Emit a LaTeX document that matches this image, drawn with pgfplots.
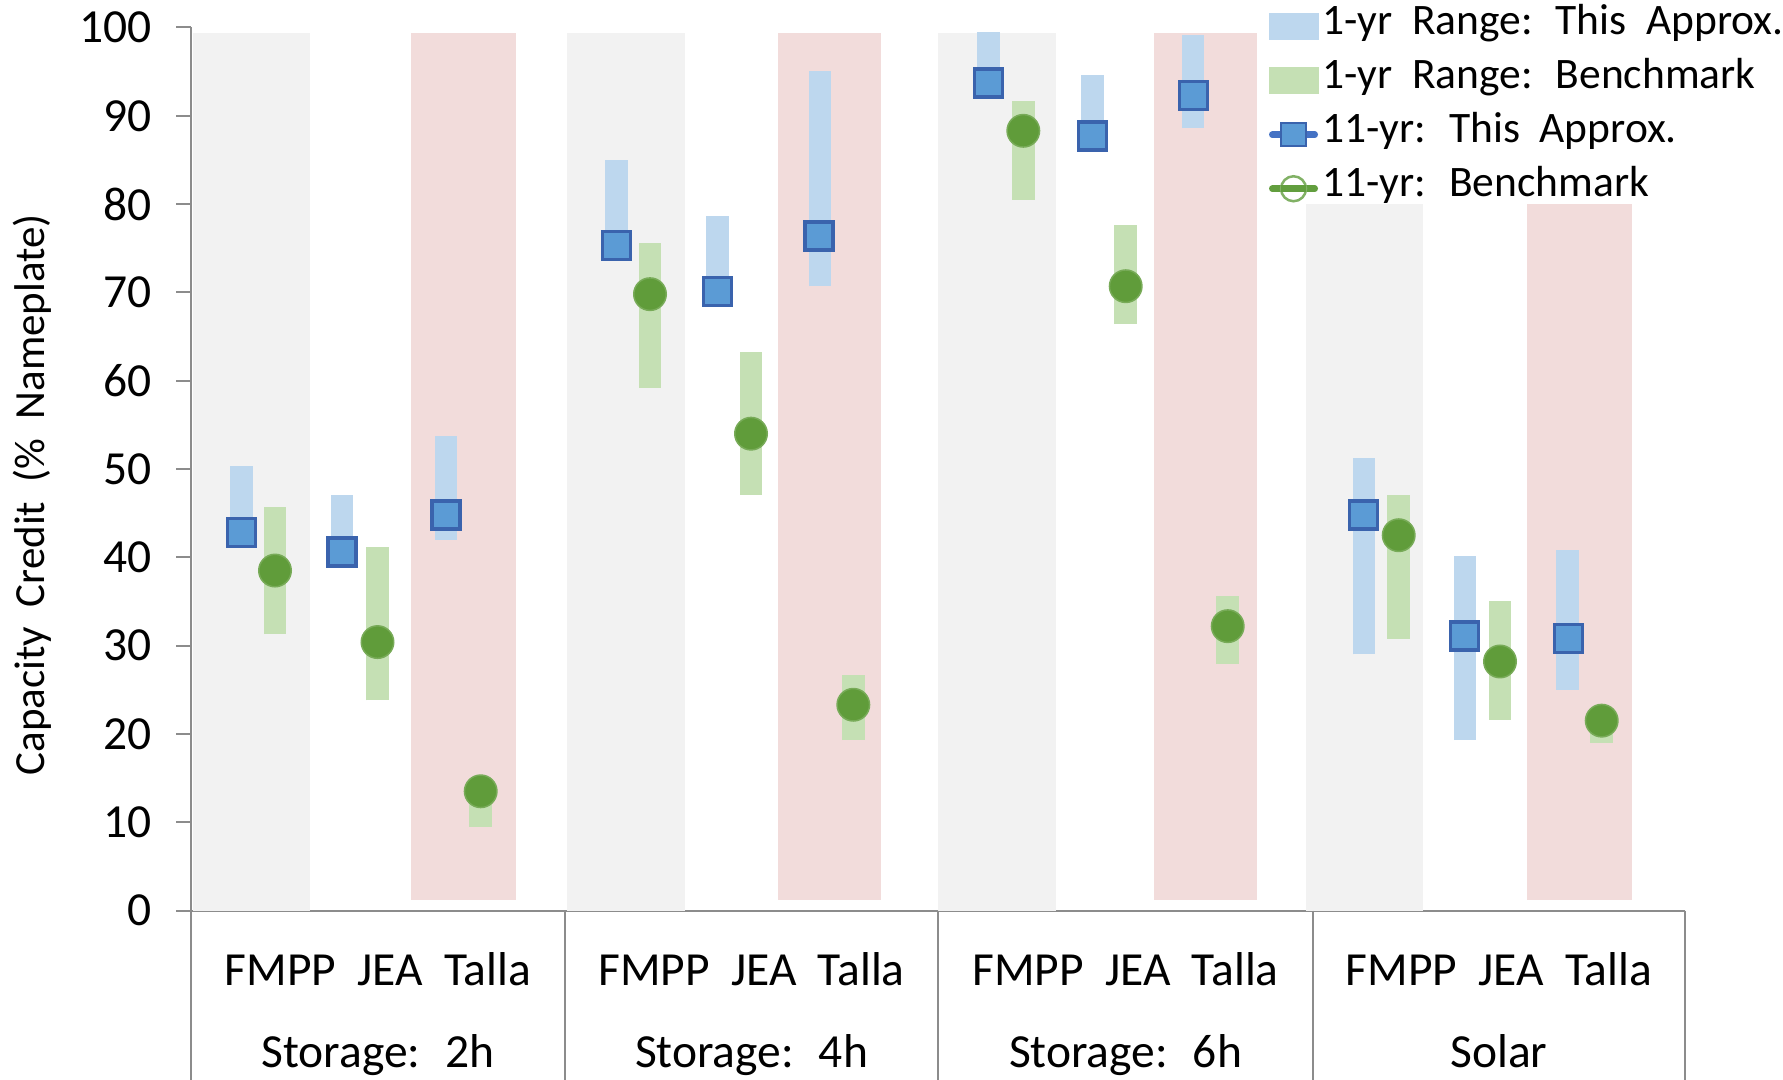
\documentclass[border=0pt]{standalone}
\usepackage{pgfplots}
\pgfplotsset{compat=1.18}
\usepackage{fontspec}
\setmainfont{Carlito}
\definecolor{bggray}{HTML}{F2F2F2}
\definecolor{bgpink}{HTML}{F2DCDB}
\definecolor{rangeblue}{HTML}{BDD7EE}
\definecolor{rangegreen}{HTML}{C5E0B4}
\definecolor{sqfill}{HTML}{5B9BD5}
\definecolor{sqdraw}{HTML}{3A63AD}
\definecolor{circfill}{HTML}{609C3A}
\definecolor{legblue}{HTML}{4472C4}
\definecolor{leggreen}{HTML}{629E3E}
\definecolor{axisgray}{HTML}{8C8C8C}
\newcommand{\tickfont}{\fontsize{19bp}{22bp}\selectfont\spaceskip=0.45em\relax}
\newcommand{\legfont}{\fontsize{17.4bp}{20bp}\selectfont\spaceskip=0.45em\relax}
\newcommand{\catfont}{\fontsize{19bp}{22bp}\selectfont\spaceskip=0.45em\relax}
\newcommand{\labfont}{\fontsize{17.2bp}{20bp}\selectfont\spaceskip=0.45em\relax}
\begin{document}
\begin{tikzpicture}
\useasboundingbox (0,0) rectangle (713.2bp,432bp);
\clip (0,0) rectangle (713.2bp,432bp);
\begin{axis}[
  at={(76.4bp,67.8bp)}, anchor=south west,
  scale only axis, width=597.6bp, height=353.2bp,
  xmin=191, xmax=1685, ymin=0, ymax=100,
  clip=false,
  axis x line=bottom, axis y line=left,
  axis line style={draw=axisgray, line width=0.8bp, -},
  x axis line style={-}, y axis line style={-},
  xtick=\empty, ytick={0,10,...,100},
  tick align=outside, major tick length=6bp,
  ytick style={draw=axisgray, line width=0.8bp},
  /pgf/number format/assume math mode=true,
  yticklabel={\pgfmathprintnumber{\tick}},
  yticklabel style={font=\tickfont, anchor=east, inner sep=0pt, xshift=-9.5bp},
  ylabel={Capacity Credit (\% Nameplate)},
  every axis y label/.style={at={(axis description cs:-0.1064,0.471)}, rotate=90, anchor=center,
    font=\labfont},
  legend style={at={(axis description cs:0.7209,1.032)}, anchor=north west, draw=none, fill=none,
    font=\legfont, row sep=0bp, inner sep=0pt, column sep=1.7bp,
    nodes={inner sep=0pt, text height=14bp, text depth=7.6bp}},
  legend cell align=left,
]
% background bars
\addplot[fill=bggray, draw=none, forget plot] coordinates {(193,0) (310,0) (310,99.4) (193,99.4)} --cycle;
\addplot[fill=bgpink, draw=none, forget plot] coordinates {(411,1.2) (515.7,1.2) (515.7,99.4) (411,99.4)} --cycle;
\addplot[fill=bggray, draw=none, forget plot] coordinates {(567,0) (685,0) (685,99.4) (567,99.4)} --cycle;
\addplot[fill=bgpink, draw=none, forget plot] coordinates {(778,1.2) (881,1.2) (881,99.4) (778,99.4)} --cycle;
\addplot[fill=bggray, draw=none, forget plot] coordinates {(938,0) (1056,0) (1056,99.4) (938,99.4)} --cycle;
\addplot[fill=bgpink, draw=none, forget plot] coordinates {(1154,1.2) (1256.5,1.2) (1256.5,99.4) (1154,99.4)} --cycle;
\addplot[fill=bggray, draw=none, forget plot] coordinates {(1306,0) (1422.7,0) (1422.7,80) (1306,80)} --cycle;
\addplot[fill=bgpink, draw=none, forget plot] coordinates {(1527,1.2) (1632,1.2) (1632,80) (1527,80)} --cycle;
% 1-yr ranges: this approx.
\addplot[draw=rangeblue, line width=9bp, unbounded coords=jump, forget plot] coordinates {
 (241.7,42.0) (241.7,50.3) (241.7,nan)
 (342,40.0) (342,47.0) (342,nan)
 (446,42.0) (446,53.7) (446,nan)
 (616.3,74.5) (616.3,85.0) (616.3,nan)
 (717.3,69.5) (717.3,78.7) (717.3,nan)
 (820,70.7) (820,95.1) (820,nan)
 (988.3,93.0) (988.3,99.5) (988.3,nan)
 (1092.3,87.0) (1092.3,94.6) (1092.3,nan)
 (1192.8,88.6) (1192.8,99.1) (1192.8,nan)
 (1364,29.0) (1364,51.2) (1364,nan)
 (1465,19.3) (1465,40.2) (1465,nan)
 (1567.5,25.0) (1567.5,40.8)
};
% 1-yr ranges: benchmark
\addplot[draw=rangegreen, line width=9bp, unbounded coords=jump, forget plot] coordinates {
 (275,31.3) (275,45.7) (275,nan)
 (377.5,23.8) (377.5,41.2) (377.5,nan)
 (480.7,9.5) (480.7,15.0) (480.7,nan)
 (650,59.2) (650,75.6) (650,nan)
 (751,47.1) (751,63.2) (751,nan)
 (853.3,19.3) (853.3,26.7) (853.3,nan)
 (1023.3,80.5) (1023.3,91.7) (1023.3,nan)
 (1125.7,66.4) (1125.7,77.6) (1125.7,nan)
 (1227.7,27.9) (1227.7,35.6) (1227.7,nan)
 (1398.7,30.8) (1398.7,47.1) (1398.7,nan)
 (1500,21.6) (1500,35.0) (1500,nan)
 (1601.7,19.0) (1601.7,22.5)
};
% 11-yr: this approx.
\addplot[only marks, mark=square*, mark size=5.6bp, mark options={fill=sqfill, draw=sqdraw, line width=1.3bp}, forget plot] coordinates {
 (241.7,42.8) (342,40.6) (446,44.8)
 (616.3,75.3) (717.3,70.1) (819,76.4)
 (988.3,93.7) (1092.3,87.7) (1193.3,92.3)
 (1363.3,44.8) (1464.3,31.1) (1568.3,30.8)
};
% 11-yr: benchmark
\addplot[only marks, mark=*, mark size=6.5bp, mark options={fill=circfill, draw=circfill!85!white, line width=0.6bp}, forget plot] coordinates {
 (275,38.5) (377.5,30.4) (480.7,13.5)
 (650,69.8) (751,54.0) (853.3,23.3)
 (1023.3,88.3) (1125.7,70.7) (1227.7,32.2)
 (1398.7,42.5) (1500,28.2) (1601.7,21.5)
};
% legend
\addlegendimage{legend image code/.code={\fill[rangeblue] (0bp,-5.1bp) rectangle (19.6bp,5.1bp);}}
\addlegendentry{1-yr Range: This Approx.}
\addlegendimage{legend image code/.code={\fill[rangegreen] (0bp,-5.1bp) rectangle (19.6bp,5.1bp);}}
\addlegendentry{1-yr Range: Benchmark}
\addlegendimage{legend image code/.code={\draw[legblue, line width=2.6bp, line cap=round] (1.3bp,0bp) -- (18.3bp,0bp); \draw[fill=sqfill, draw=sqdraw, line width=1bp] (4.8bp,-4.6bp) rectangle (14.8bp,4.6bp);}}
\addlegendentry{11-yr: This Approx.}
\addlegendimage{legend image code/.code={\draw[leggreen, line width=2.6bp, line cap=round] (1.3bp,0bp) -- (18.3bp,0bp); \draw[draw=leggreen!80!white, fill=white, line width=1bp] (9.8bp,0bp) circle (5bp); \draw[leggreen, line width=2.6bp] (4.8bp,0bp) -- (14.8bp,0bp);}}
\addlegendentry{11-yr: Benchmark}
% category separators and labels
\draw[axisgray, line width=0.8bp] (axis cs:191,0) -- (axis cs:191,-25);
\draw[axisgray, line width=0.8bp] (axis cs:565,0) -- (axis cs:565,-25);
\draw[axisgray, line width=0.8bp] (axis cs:938,0) -- (axis cs:938,-25);
\draw[axisgray, line width=0.8bp] (axis cs:1313,0) -- (axis cs:1313,-25);
\draw[axisgray, line width=0.8bp] (axis cs:1685,0) -- (axis cs:1685,-25);
\node[font=\catfont, anchor=base, inner sep=0pt] at (axis cs:378,-8.44) {FMPP JEA Talla};
\node[font=\catfont, anchor=base, inner sep=0pt] at (axis cs:751.5,-8.44) {FMPP JEA Talla};
\node[font=\catfont, anchor=base, inner sep=0pt] at (axis cs:1125.5,-8.44) {FMPP JEA Talla};
\node[font=\catfont, anchor=base, inner sep=0pt] at (axis cs:1499,-8.44) {FMPP JEA Talla};
\node[font=\catfont, anchor=base, inner sep=0pt] at (axis cs:378,-17.8) {Storage: 2h};
\node[font=\catfont, anchor=base, inner sep=0pt] at (axis cs:751.5,-17.8) {Storage: 4h};
\node[font=\catfont, anchor=base, inner sep=0pt] at (axis cs:1125.5,-17.8) {Storage: 6h};
\node[font=\catfont, anchor=base, inner sep=0pt] at (axis cs:1499,-17.8) {Solar};
\end{axis}
\end{tikzpicture}
\end{document}
